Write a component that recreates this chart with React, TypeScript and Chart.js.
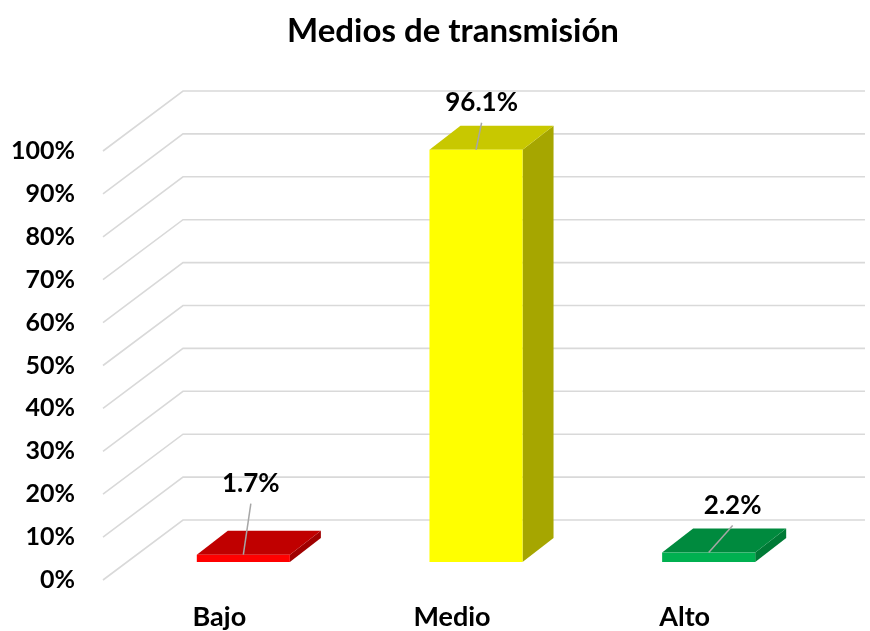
import React, { useEffect, useRef } from 'react';
import { Chart, registerables } from 'chart.js';

Chart.register(...registerables);

// ---- data ----
const chartTitle = 'Medios de transmisión';
const categories = ['Bajo', 'Medio', 'Alto'];
const values = [1.7, 96.1, 2.2];
const yMin = 0;
const yMax = 100;
const yStep = 10;

// ---- styles ----
const frontColors = ['#FF0000', '#FFFF00', '#00B050'];
const topColors = ['#C00000', '#C8C800', '#008A3E'];
const sideColors = ['#A00000', '#A6A600', '#007A36'];
const labelOffsets = [
  [7.5, -71],
  [5.6, -47],
  [24, -47],
];

const FONT = 'Lato, "Open Sans", sans-serif';
const WALL_DX = 80;
const WALL_DY = -60;
const WALL_EXTRA_RIGHT = 64;
const BAR_SHIFT_X = 24;
const BAR_SHIFT_Y = -18;
const BAR_DX = 31;
const BAR_DY = -24;
const TITLE_X = 453;
const TITLE_Y = 31;

const threeDPlugin = {
  id: 'threeD',
  beforeDatasetsDraw(chart: any) {
    const { ctx, chartArea, scales } = chart;
    const y = scales.y;
    ctx.save();
    ctx.strokeStyle = '#D9D9D9';
    ctx.lineWidth = 1.6;
    y.ticks.forEach((t: any) => {
      const yf = y.getPixelForValue(t.value);
      ctx.beginPath();
      ctx.moveTo(chartArea.left, yf);
      ctx.lineTo(chartArea.left + WALL_DX, yf + WALL_DY);
      ctx.lineTo(chartArea.right + WALL_EXTRA_RIGHT, yf + WALL_DY);
      ctx.stroke();
    });
    ctx.restore();
  },
  afterDatasetsDraw(chart: any) {
    const { ctx } = chart;
    const meta = chart.getDatasetMeta(0);
    ctx.save();
    meta.data.forEach((bar: any, i: number) => {
      const p = bar.getProps(['x', 'y', 'base', 'width'], true);
      const x1 = p.x - p.width / 2 + BAR_SHIFT_X;
      const x2 = p.x + p.width / 2 + BAR_SHIFT_X;
      const yt = p.y + BAR_SHIFT_Y;
      const yb = p.base + BAR_SHIFT_Y;
      // side face
      ctx.fillStyle = sideColors[i];
      ctx.beginPath();
      ctx.moveTo(x2, yt);
      ctx.lineTo(x2 + BAR_DX, yt + BAR_DY);
      ctx.lineTo(x2 + BAR_DX, yb + BAR_DY);
      ctx.lineTo(x2, yb);
      ctx.closePath();
      ctx.fill();
      // top face
      ctx.fillStyle = topColors[i];
      ctx.beginPath();
      ctx.moveTo(x1, yt);
      ctx.lineTo(x2, yt);
      ctx.lineTo(x2 + BAR_DX, yt + BAR_DY);
      ctx.lineTo(x1 + BAR_DX, yt + BAR_DY);
      ctx.closePath();
      ctx.fill();
      // front face
      ctx.fillStyle = frontColors[i];
      ctx.fillRect(x1, yt, x2 - x1, yb - yt);

      // label with leader line
      const cx = (x1 + x2) / 2;
      const lx = cx + labelOffsets[i][0];
      const ly = yt + labelOffsets[i][1];
      ctx.strokeStyle = '#A6A6A6';
      ctx.lineWidth = 1.5;
      ctx.beginPath();
      ctx.moveTo(lx, ly + 20);
      ctx.lineTo(cx, yt);
      ctx.stroke();
      ctx.fillStyle = '#000';
      ctx.font = `bold 26px ${FONT}`;
      ctx.textAlign = 'center';
      ctx.textBaseline = 'middle';
      ctx.fillText(values[i].toFixed(1) + '%', lx, ly);
    });
    ctx.restore();
  },
  afterDraw(chart: any) {
    const { ctx } = chart;
    ctx.save();
    ctx.fillStyle = '#000';
    ctx.font = `bold 33px ${FONT}`;
    ctx.textAlign = 'center';
    ctx.textBaseline = 'middle';
    ctx.fillText(chartTitle, TITLE_X, TITLE_Y);
    ctx.restore();
  },
};

export default function App() {
  const canvasRef = useRef<HTMLCanvasElement | null>(null);

  useEffect(() => {
    if (!canvasRef.current) return;
    const chart = new Chart(canvasRef.current, {
      type: 'bar',
      data: {
        labels: categories,
        datasets: [
          {
            data: values,
            backgroundColor: 'rgba(0,0,0,0)',
            borderWidth: 0,
            categoryPercentage: 1,
            barPercentage: 0.4,
          },
        ],
      },
      options: {
        responsive: true,
        maintainAspectRatio: false,
        animation: false,
        layout: { padding: { top: 151, left: 0, right: 69, bottom: 0 } },
        plugins: {
          legend: { display: false },
          tooltip: { enabled: false },
          title: { display: false },
        },
        scales: {
          x: {
            grid: { display: false, drawTicks: false },
            border: { display: false },
            ticks: {
              color: '#000',
              font: { family: FONT, size: 27, weight: 'bold' },
              padding: 21,
            },
            afterFit: (s: any) => {
              s.height = 51;
            },
          },
          y: {
            min: yMin,
            max: yMax,
            grid: { display: false, drawTicks: false },
            border: { display: false },
            ticks: {
              stepSize: yStep,
              color: '#000',
              font: { family: FONT, size: 25, weight: 'bold' },
              padding: 28,
              callback: (v: any) => v + '%',
            },
            afterFit: (s: any) => {
              s.width = 103;
            },
          },
        },
      },
      plugins: [threeDPlugin],
    });
    return () => chart.destroy();
  }, []);

  return (
    <div style={{ position: 'fixed', left: 0, top: 0, width: 870, height: 631, background: '#fff' }}>
      <canvas ref={canvasRef} />
    </div>
  );
}
